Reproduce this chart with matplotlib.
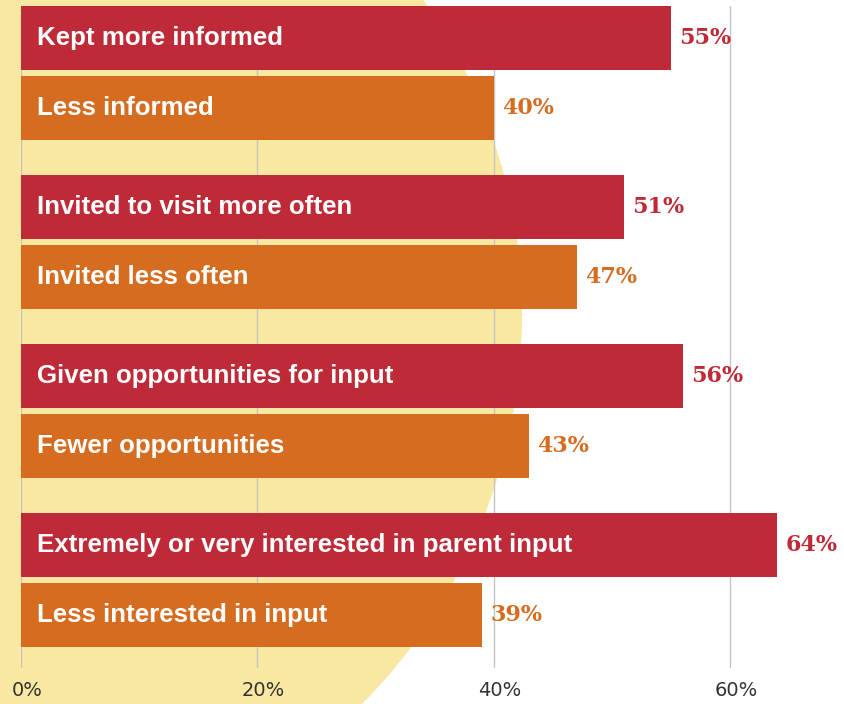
import matplotlib.pyplot as plt
from matplotlib.patches import Circle

# data
labels_more = ["Kept more informed", "Invited to visit more often",
               "Given opportunities for input",
               "Extremely or very interested in parent input"]
labels_less = ["Less informed", "Invited less often",
               "Fewer opportunities", "Less interested in input"]
vals_more = [55, 51, 56, 64]
vals_less = [40, 47, 43, 39]
ticks = [0, 20, 40, 60]
tick_labels = ["0%", "20%", "40%", "60%"]

red = "#BE2A37"
orange = "#D66C20"
yellow = "#F8E8A2"

W, H = 845, 704
fig = plt.figure(figsize=(W / 100, H / 100), dpi=100)

# yellow disc in the background
bg = fig.add_axes([0, 0, 1, 1], zorder=0)
bg.set_xlim(0, W)
bg.set_ylim(H, 0)
bg.axis("off")
bg.add_patch(Circle((-31, 315), 553, color=yellow, lw=0))

ax = fig.add_axes([21 / W, 36 / H, (W - 21) / W, 662 / H], zorder=1)
ax.patch.set_alpha(0)

step = 169
bar_h = 64
lab_font = ["Liberation Sans", "DejaVu Sans"]
for i in range(len(vals_more)):
    y1 = 32 + i * step
    y2 = y1 + 70
    ax.barh(y1, vals_more[i], height=bar_h, color=red, zorder=2)
    ax.barh(y2, vals_less[i], height=bar_h, color=orange, zorder=2)
    ax.text(1.35, y1, labels_more[i], color="white", fontsize=18.6,
            fontweight="bold", family=lab_font,
            va="center", ha="left", zorder=3)
    ax.text(1.35, y2, labels_less[i], color="white", fontsize=18.6,
            fontweight="bold", family=lab_font,
            va="center", ha="left", zorder=3)
    ax.annotate(f"{vals_more[i]}%", (vals_more[i], y1), xytext=(6, 0),
                textcoords="offset points", color=red, fontsize=16,
                fontweight="bold", family="DejaVu Serif", va="center")
    ax.annotate(f"{vals_less[i]}%", (vals_less[i], y2), xytext=(6, 0),
                textcoords="offset points", color=orange, fontsize=16,
                fontweight="bold", family="DejaVu Serif", va="center")

ax.set_xlim(0, (W - 21) / 11.82)
ax.set_ylim(662, 0)
# gridlines on major ticks, labels a touch to the right on minor ticks
ax.set_xticks(ticks)
ax.set_xticklabels([])
ax.set_xticks([t + 0.5 for t in ticks], minor=True)
ax.set_xticklabels(tick_labels, minor=True, fontsize=14, color="#333333")
ax.set_yticks([])
ax.tick_params(axis="x", which="both", length=0, pad=9)
ax.grid(axis="x", which="major", color="#c4c4c4", lw=1)
ax.set_axisbelow(True)
for s in ax.spines.values():
    s.set_visible(False)

fig.savefig("out.png", dpi=100)
